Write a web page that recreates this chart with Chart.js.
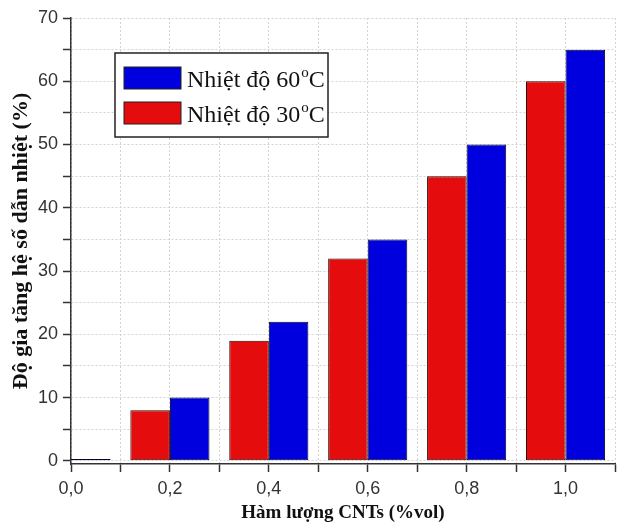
<!DOCTYPE html>
<html lang="vi">
<head>
<meta charset="utf-8">
<title>Độ gia tăng hệ số dẫn nhiệt</title>
<script src="https://cdn.jsdelivr.net/npm/chart.js@4"></script>
<style>
  html, body { margin: 0; padding: 0; background: #fff; }
  #chart { display: block; }
</style>
</head>
<body>
<canvas id="chart" width="621" height="529"></canvas>
<script>
// CNT content (%vol) and thermal conductivity increase (%)
const cntContent = [0.0, 0.2, 0.4, 0.6, 0.8, 1.0];
const rise30 = [null, 8, 19, 32, 45, 60];
const rise60 = [0.3, 10, 22, 35, 50, 65];
const seriesLabels = ['Nhiệt độ 30°C', 'Nhiệt độ 60°C'];
const xTickLabels = [0.0, 0.2, 0.4, 0.6, 0.8, 1.0];
const yTickLabels = [0, 10, 20, 30, 40, 50, 60, 70];

const RED = '#e40c0c';
const BLUE = '#0000de';
const AXIS = '#333';
const GRID = '#d2d2d2';

function toPoints(values) {
  return cntContent
    .map((x, i) => ({ x, y: values[i] }))
    .filter((p) => p.y !== null);
}

function isLabelled(list, value) {
  return list.some((v) => Math.abs(v - value) < 1e-6);
}

// legend with a frame, drawn inside the plot like the original figure
const boxLegend = {
  id: 'boxLegend',
  afterDatasetsDraw(chart) {
    const { ctx, chartArea } = chart;
    const left = chartArea.left + 44;
    const top = chartArea.top + 35;
    const width = 213;
    const height = 84;

    ctx.save();
    ctx.fillStyle = '#fff';
    ctx.fillRect(left, top, width, height);
    ctx.strokeStyle = '#222';
    ctx.lineWidth = 1.5;
    ctx.strokeRect(left, top, width, height);

    // 60°C entry first, as in the figure
    const entries = chart.data.datasets.slice().reverse();
    entries.forEach((ds, i) => {
      const rowTop = top + 14 + i * 35;
      ctx.fillStyle = ds.backgroundColor;
      ctx.fillRect(left + 9, rowTop, 57, 22);
      ctx.strokeStyle = '#222';
      ctx.lineWidth = 1;
      ctx.strokeRect(left + 9, rowTop, 57, 22);

      const [main, unit] = ds.label.split('°');
      const baseline = rowTop + 20;
      let tx = left + 72;
      ctx.fillStyle = '#111';
      ctx.textBaseline = 'alphabetic';
      ctx.font = '24px "Liberation Serif", "Times New Roman", serif';
      ctx.fillText(main, tx, baseline);
      tx += ctx.measureText(main).width + 1;
      ctx.font = '15px "Liberation Serif", "Times New Roman", serif';
      ctx.fillText('o', tx, baseline - 10);
      tx += ctx.measureText('o').width;
      ctx.font = '24px "Liberation Serif", "Times New Roman", serif';
      ctx.fillText(unit, tx, baseline);
    });
    ctx.restore();
  },
};

const tickFont = { family: '"Liberation Sans", Arial, sans-serif', size: 18 };

new Chart(document.getElementById('chart'), {
  type: 'bar',
  data: {
    datasets: [
      {
        label: seriesLabels[0],
        data: toPoints(rise30),
        backgroundColor: RED,
        borderColor: '#2a0505',
      },
      {
        label: seriesLabels[1],
        data: toPoints(rise60),
        backgroundColor: BLUE,
        borderColor: '#05052a',
      },
    ],
  },
  options: {
    responsive: false,
    animation: false,
    devicePixelRatio: 1,
    layout: { padding: { top: 18, right: 5, left: 0, bottom: 0 } },
    plugins: {
      legend: { display: false },
      tooltip: { enabled: false },
    },
    datasets: {
      bar: {
        categoryPercentage: 1.6,
        barPercentage: 1,
        borderWidth: 1,
        borderSkipped: false,
      },
    },
    scales: {
      x: {
        type: 'linear',
        offset: false,
        min: 0,
        max: 1.1,
        afterFit: (scale) => { scale.height = 65; },
        ticks: {
          stepSize: 0.1,
          autoSkip: false,
          maxRotation: 0,
          padding: 6,
          font: tickFont,
          color: AXIS,
          callback: (value) =>
            isLabelled(xTickLabels, value) ? value.toFixed(1).replace('.', ',') : '',
        },
        grid: {
          offset: false,
          color: GRID,
          tickColor: AXIS,
          tickLength: 8,
          tickWidth: 1.5,
          tickBorderDash: [],
        },
        border: { color: AXIS, width: 1.5, dash: [2, 2] },
        title: {
          display: true,
          text: 'Hàm lượng CNTs (%vol)',
          color: '#111',
          font: { family: '"Liberation Serif", "Times New Roman", serif', size: 19, weight: 'bold' },
          padding: { top: 0, bottom: 5 },
        },
      },
      y: {
        min: -0.5,
        max: 70,
        afterFit: (scale) => { scale.width = 71; },
        // major ticks every 10, minor every 5, starting at 0
        afterBuildTicks: (scale) => {
          const ticks = [];
          for (let v = 0; v <= 70; v += 5) ticks.push({ value: v });
          scale.ticks = ticks;
        },
        ticks: {
          autoSkip: false,
          padding: 5,
          font: tickFont,
          color: AXIS,
          callback: (value) => (isLabelled(yTickLabels, value) ? String(value) : ''),
        },
        grid: {
          color: GRID,
          tickColor: AXIS,
          tickLength: 8,
          tickWidth: 1.5,
          tickBorderDash: [],
        },
        border: { color: AXIS, width: 1.5, dash: [2, 2] },
        title: {
          display: true,
          text: 'Độ gia tăng hệ số dẫn nhiệt (%)',
          color: '#111',
          font: { family: '"Liberation Serif", "Times New Roman", serif', size: 22, weight: 'bold' },
          padding: { top: 8, bottom: 0 },
        },
      },
    },
  },
  plugins: [boxLegend],
});
</script>
</body>
</html>
